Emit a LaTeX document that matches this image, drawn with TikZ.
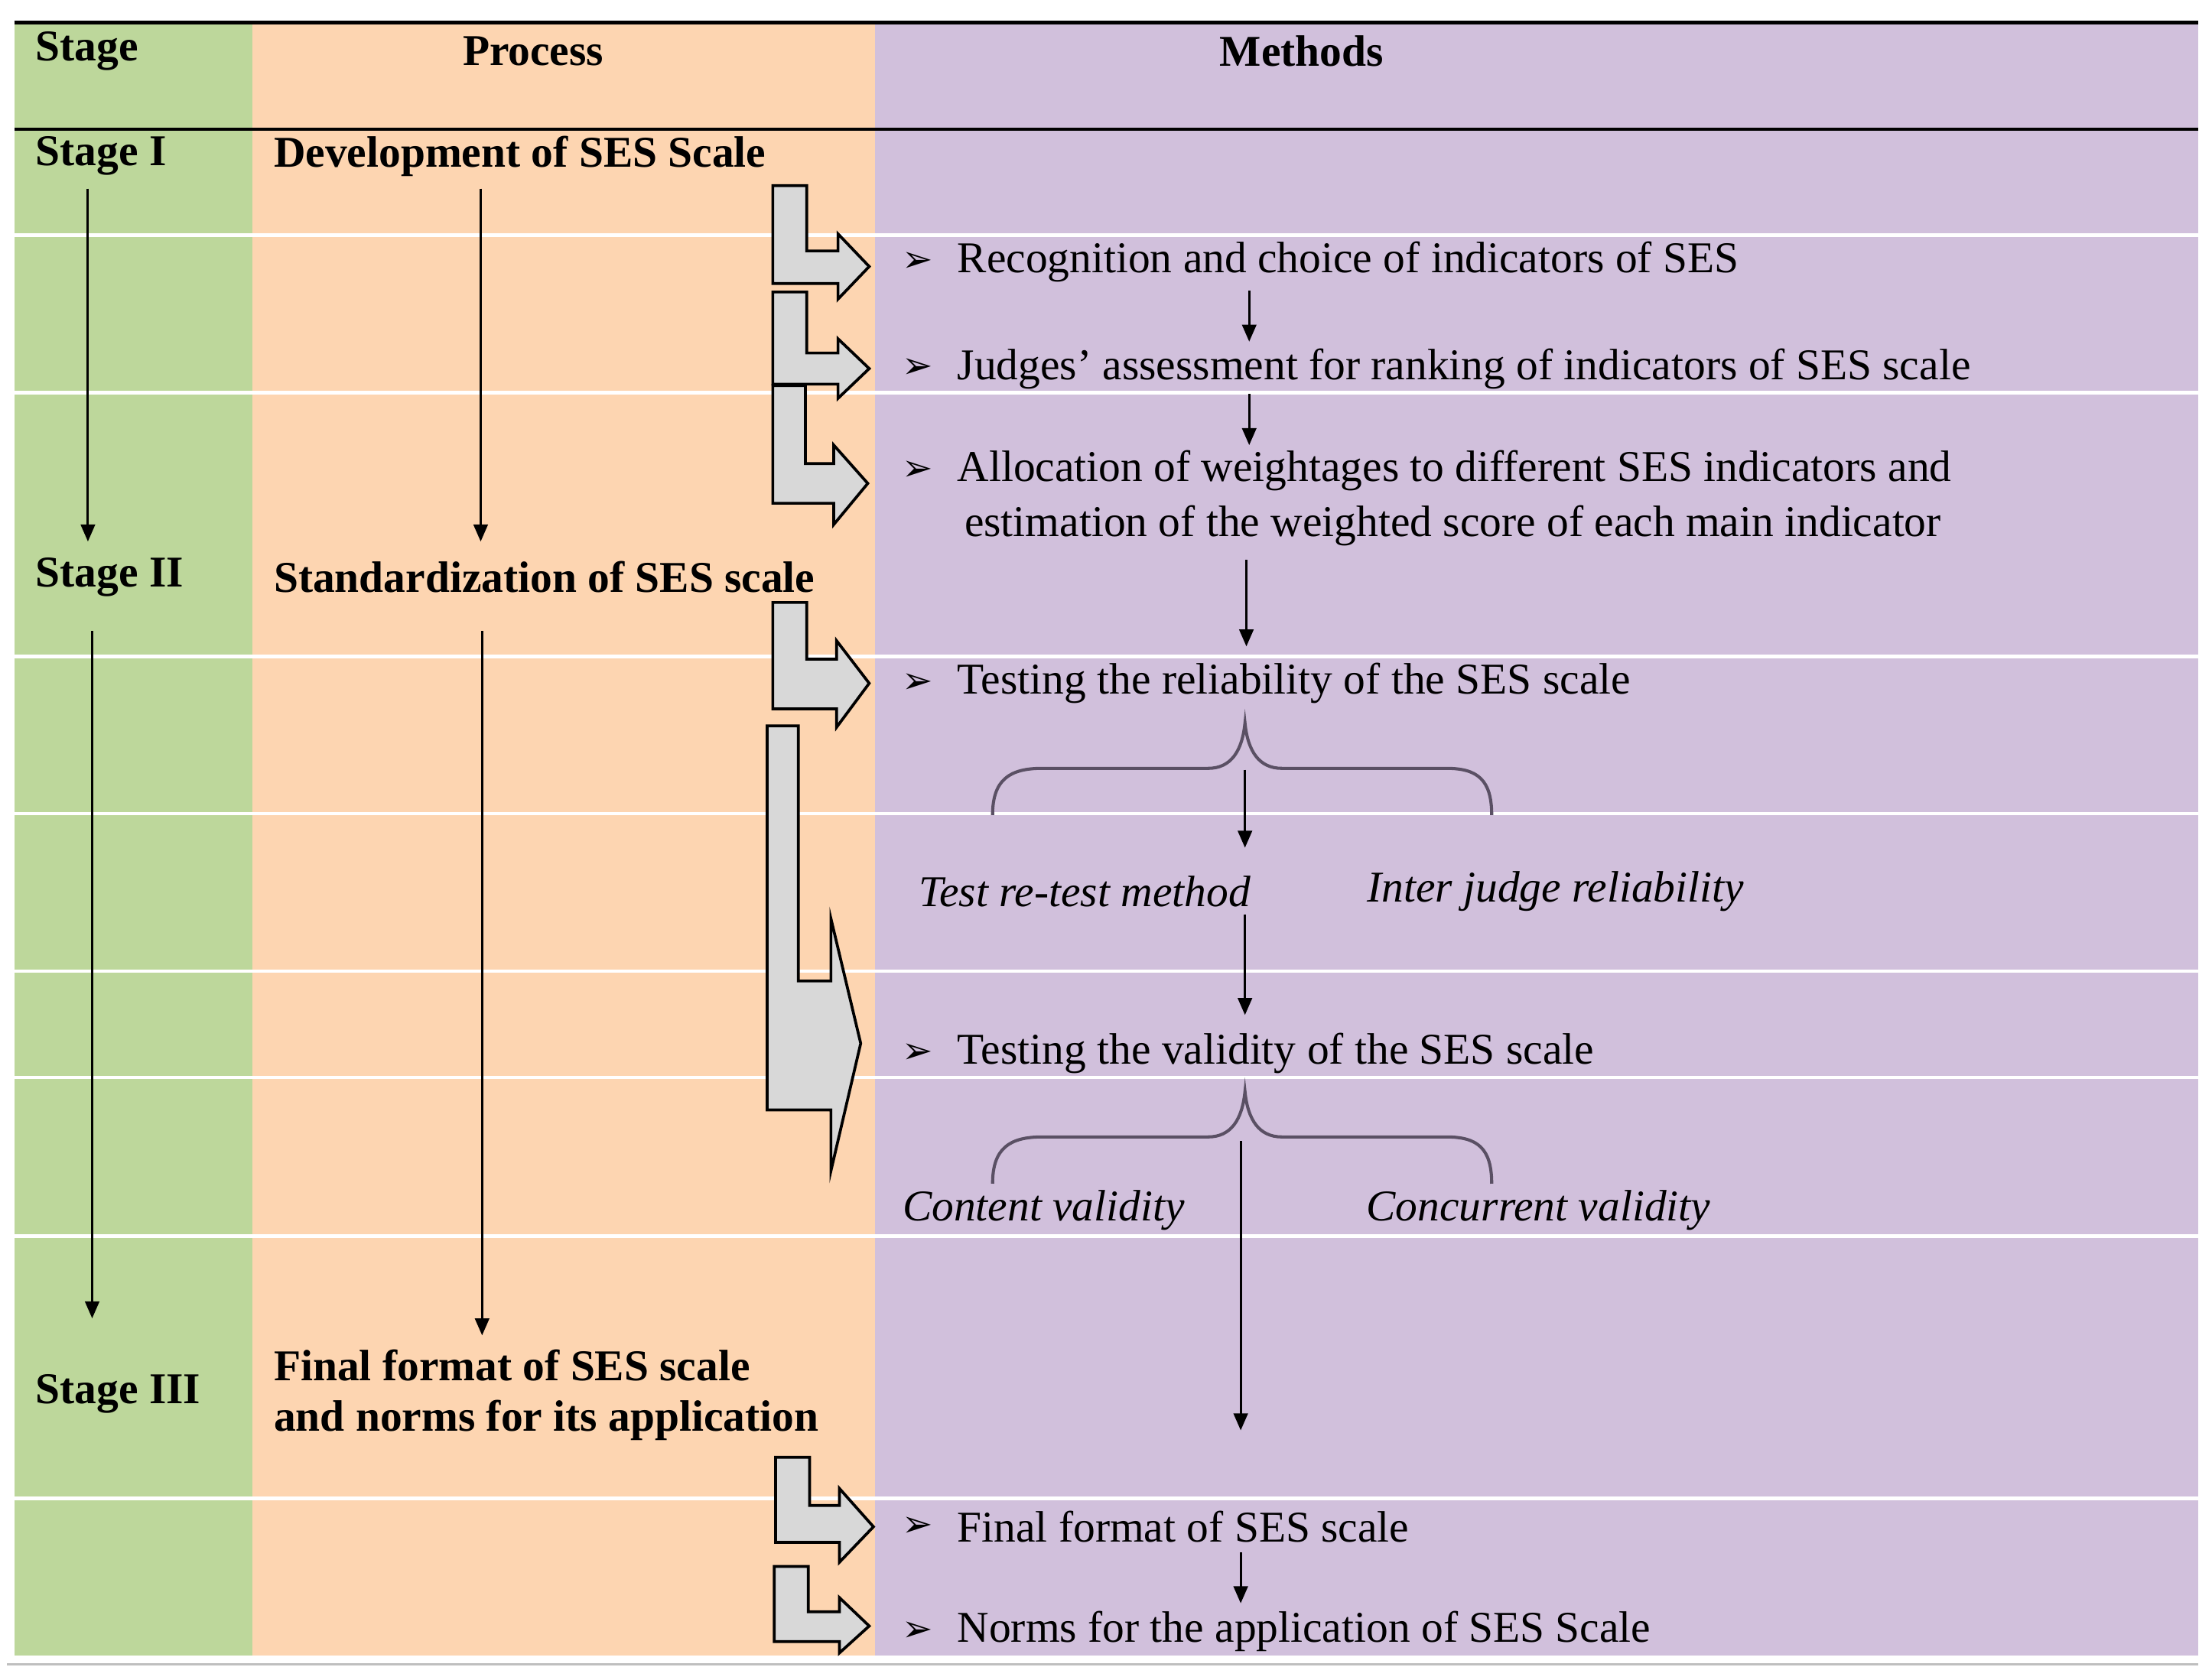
\documentclass[tikz,border=0pt]{standalone}
\usepackage{fontspec}
\setmainfont{Liberation Serif}
\newfontfamily\symf{DejaVu Sans}
\usetikzlibrary{arrows.meta}
\definecolor{cgreen}{RGB}{189,215,155}
\definecolor{corange}{RGB}{253,213,177}
\definecolor{cpurple}{RGB}{209,192,220}
\definecolor{cgrayf}{RGB}{216,216,216}
\tikzset{
 txt/.style={anchor=west,inner sep=0pt,font=\fontsize{31}{35}\selectfont},
 btxt/.style={txt,font=\fontsize{31}{35}\selectfont\bfseries},
 itxt/.style={anchor=center,inner sep=0pt,font=\fontsize{31}{35}\selectfont\itshape},
 bul/.style={anchor=west,inner sep=0pt,font=\fontsize{26}{30}\selectfont\symf},
 flow/.style={line width=1.6pt,-{Triangle[length=12pt,width=10pt]}},
 blk/.style={fill=cgrayf,draw=black,line width=2pt,line join=miter},
 brc/.style={line width=2.2pt,draw={rgb,255:red,90;green,80;blue,100}},
 sep/.style={white,line width=2.5pt}
}
\begin{document}
\begin{tikzpicture}[x=1pt,y=-1pt]
\useasboundingbox (0,0) rectangle (1560,1185);
\fill[white] (0,0) rectangle (1560,1185);
% columns
\fill[cgreen] (10,16) rectangle (178,1168);
\fill[corange] (178,16) rectangle (617,1168);
\fill[cpurple] (617,16) rectangle (1550,1168);
% separators
\foreach \yy in {166,277,463,574,685,760,872,1057}
  \draw[sep] (10,\yy) -- (1550,\yy);
\draw[line width=2.5pt] (10,16) -- (1550,16);
\draw[line width=2pt] (10,91) -- (1550,91);
\draw[line width=2pt,gray!50] (5,1174) -- (1550,1174);
% headers
\node[btxt] (hs) at (25,36) {Stage};
\node[btxt,anchor=center] (hp) at (376,36) {Process};
\node[btxt,anchor=center] (hm) at (918,36) {Methods};
% stages
\node[btxt] (s1) at (25,110) {Stage I};
\node[btxt] (s2) at (25,407) {Stage II};
\node[btxt] (s3) at (25,983) {Stage III};
\node[btxt] (p1) at (193,110) {Development of SES Scale};
\node[btxt] (p2) at (193,407) {Standardization of SES scale};
\node[btxt] (p3a) at (193,963) {Final format of SES scale};
\node[btxt] (p3b) at (193,1002) {and norms for its application};
\coordinate (sa1) at (62,133); \coordinate (sb1) at (62,382);
\coordinate (sa2) at (65,445); \coordinate (sb2) at (65,930);
\coordinate (pa1) at (339,133); \coordinate (pb1) at (339,382);
\coordinate (pa2) at (340,445); \coordinate (pb2) at (340,942);
\draw[flow] (sa1) -- (sb1);
\draw[flow] (sa2) -- (sb2);
\draw[flow] (pa1) -- (pb1);
\draw[flow] (pa2) -- (pb2);
% methods
\foreach \n/\yy in {b1/185,b2/260,b3/332,b4/482,b5/743,b6/1077,b7/1151}
  \node[bul] (\n) at (636,\yy) {➢};
\node[txt] (m1) at (675,185) {Recognition and choice of indicators of SES};
\node[txt] (m2) at (675,260) {Judges’ assessment for ranking of indicators of SES scale};
\node[txt] (m3) at (675,332) {Allocation of weightages to different SES indicators and};
\node[txt] (m3b) at (680,371) {estimation of the weighted score of each main indicator};
\node[txt] (m4) at (675,482) {Testing the reliability of the SES scale};
\node[txt] (m5) at (675,743) {Testing the validity of the SES scale};
\node[txt] (m6) at (675,1077) {Final format of SES scale};
\node[txt] (m7) at (675,1151) {Norms for the application of SES Scale};
\node[itxt] (r1) at (765,629) {Test re-test method};
\node[itxt] (r2) at (1097,629) {Inter judge reliability};
\node[itxt] (v1) at (736,854) {Content validity};
\node[itxt] (v2) at (1085,854) {Concurrent validity};
\draw[flow] (881,205) -- (881,241);
\draw[flow] (881,278) -- (881,314);
\draw[flow] (879,395) -- (879,456);
\draw[flow] (878,543) -- (878,598);
\draw[flow] (878,645) -- (878,716);
\draw[flow] (875,805) -- (875,1009);
\draw[flow] (875,1095) -- (875,1131);
% braces
\foreach \t in {0,260}{
\draw[brc] (700,575+\t) .. controls (700,550+\t) and (712,542+\t) .. (735,542+\t) -- (852,542+\t)
  .. controls (868,542+\t) and (876,530+\t) .. (878,510+\t)
  .. controls (880,530+\t) and (888,542+\t) .. (904,542+\t) -- (1020,542+\t)
  .. controls (1042,542+\t) and (1052,550+\t) .. (1052,575+\t);
}
% block arrows
\draw[blk] (545,131) -- (569,131) -- (569,177) -- (591,177) -- (591,165) -- (613,188) -- (591,211) -- (591,200) -- (545,200) -- cycle;
\draw[blk] (545,206) -- (569,206) -- (569,249) -- (591,249) -- (591,239) -- (613,260) -- (591,281) -- (591,271) -- (545,271) -- cycle;
\draw[blk] (545,272) -- (568,272) -- (568,327) -- (588,327) -- (588,314) -- (612,341) -- (588,370) -- (588,355) -- (545,355) -- cycle;
\draw[blk] (545,425) -- (569,425) -- (569,465) -- (590,465) -- (590,452) -- (613,482) -- (590,513) -- (590,500) -- (545,500) -- cycle;
\draw[blk] (541,512) -- (563,512) -- (563,692) -- (586,692) -- (586,648) -- (607,736) -- (586,826) -- (586,783) -- (541,783) -- cycle;
\draw[blk] (547,1028) -- (571,1028) -- (571,1062) -- (592,1062) -- (592,1050) -- (616,1077) -- (592,1102) -- (592,1088) -- (547,1088) -- cycle;
\draw[blk] (546,1105) -- (570,1105) -- (570,1137) -- (592,1137) -- (592,1127) -- (613,1147) -- (592,1166) -- (592,1158) -- (546,1158) -- cycle;
\end{tikzpicture}
\end{document}
